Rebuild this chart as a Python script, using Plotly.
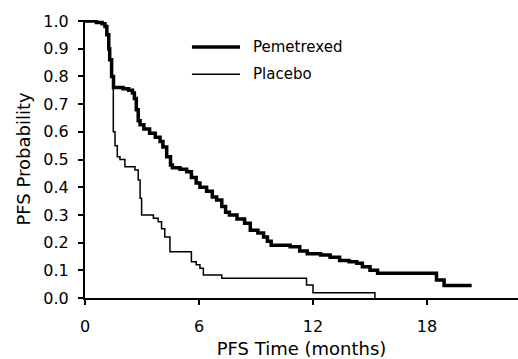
import plotly.graph_objects as go

# Kaplan-Meier step data (months, PFS probability)
pem_time = [0, 0.6, 0.9, 1.05, 1.15, 1.25, 1.3, 1.4, 1.5, 2.0, 2.3, 2.5, 2.6, 2.7, 2.8, 2.9,
            3.1, 3.4, 3.7, 3.95, 4.1, 4.3, 4.5, 4.6, 5.0, 5.35, 5.6, 5.85, 6.05, 6.4, 6.7,
            6.93, 7.2, 7.4, 7.6, 8.0, 8.4, 8.7, 9.1, 9.4, 9.6, 9.8, 10.8, 11.3, 11.7, 12.4,
            12.9, 13.4, 13.9, 14.3, 14.6, 15.0, 15.4, 18.07, 18.5, 18.9, 20.35]
pem_surv = [1.0, 0.995, 0.99, 0.98, 0.95, 0.90, 0.86, 0.80, 0.76, 0.755, 0.75, 0.74, 0.72,
            0.68, 0.64, 0.625, 0.61, 0.595, 0.58, 0.565, 0.545, 0.51, 0.48, 0.47, 0.465,
            0.456, 0.435, 0.415, 0.40, 0.385, 0.365, 0.354, 0.33, 0.31, 0.30, 0.285, 0.27,
            0.245, 0.235, 0.22, 0.205, 0.19, 0.185, 0.17, 0.16, 0.155, 0.147, 0.135, 0.131,
            0.125, 0.113, 0.10, 0.089, 0.089, 0.065, 0.045, 0.045]

pla_time = [0, 0.6, 0.9, 1.05, 1.15, 1.25, 1.3, 1.4, 1.49, 1.58, 1.7, 1.84, 2.1, 2.63, 2.8,
            2.9, 2.98, 3.6, 3.85, 4.03, 4.2, 4.47, 5.35, 5.6, 5.85, 6.05, 6.23, 7.2, 11.66,
            12.0, 15.26, 15.26]
pla_surv = [1.0, 0.995, 0.99, 0.98, 0.95, 0.90, 0.86, 0.80, 0.60, 0.55, 0.51, 0.50, 0.474,
            0.462, 0.426, 0.36, 0.30, 0.288, 0.275, 0.25, 0.22, 0.167, 0.167, 0.131, 0.12,
            0.107, 0.083, 0.071, 0.047, 0.019, 0.019, 0.0]

x_ticks = [0, 6, 12, 18]
y_ticks = [0.0, 0.1, 0.2, 0.3, 0.4, 0.5, 0.6, 0.7, 0.8, 0.9, 1.0]
series_names = ["Pemetrexed", "Placebo"]

FONT = "DejaVu Sans"

fig = go.Figure()
fig.add_trace(go.Scatter(x=pem_time, y=pem_surv, mode="lines", line_shape="hv",
                         line=dict(color="black", width=3.5), name=series_names[0],
                         showlegend=False))
fig.add_trace(go.Scatter(x=pla_time, y=pla_surv, mode="lines", line_shape="hv",
                         line=dict(color="black", width=1.5), name=series_names[1],
                         showlegend=False))

# Custom legend (long line samples as in the reference)
legend_y = [0.9025, 0.805]
legend_w = [3.5, 1.5]
for name, ly, lw in zip(series_names, legend_y, legend_w):
    fig.add_shape(type="line", xref="paper", yref="paper", x0=0.247, x1=0.358,
                  y0=ly, y1=ly, line=dict(color="black", width=lw))
    fig.add_annotation(text=name, xref="paper", yref="paper", x=0.383, y=ly,
                       xanchor="left", yanchor="middle", showarrow=False,
                       font=dict(family=FONT, size=15, color="black"))

fig.update_layout(
    width=518, height=359,
    margin=dict(l=85, r=0, t=20, b=61),
    plot_bgcolor="white", paper_bgcolor="white",
    font=dict(family=FONT, size=16, color="black"),
    xaxis=dict(range=[0, 22.79], tickvals=x_ticks, ticktext=[str(v) for v in x_ticks],
               showgrid=False, zeroline=False, showline=True, linecolor="black",
               linewidth=2, ticks="outside", ticklen=5, tickwidth=1.5, tickcolor="black",
               title=dict(text="PFS Time (months)", font=dict(size=18), standoff=10),
               ticklabelstandoff=8),
    yaxis=dict(range=[0, 1.0036], tickvals=y_ticks, ticktext=[f"{v:.1f}" for v in y_ticks],
               showgrid=False, zeroline=False, showline=True, linecolor="black",
               linewidth=2, ticks="outside", ticklen=5, tickwidth=1.5, tickcolor="black",
               title=dict(text="PFS Probability", font=dict(size=18), standoff=8),
               ticklabelstandoff=6),
)

fig.write_html("out.html")
